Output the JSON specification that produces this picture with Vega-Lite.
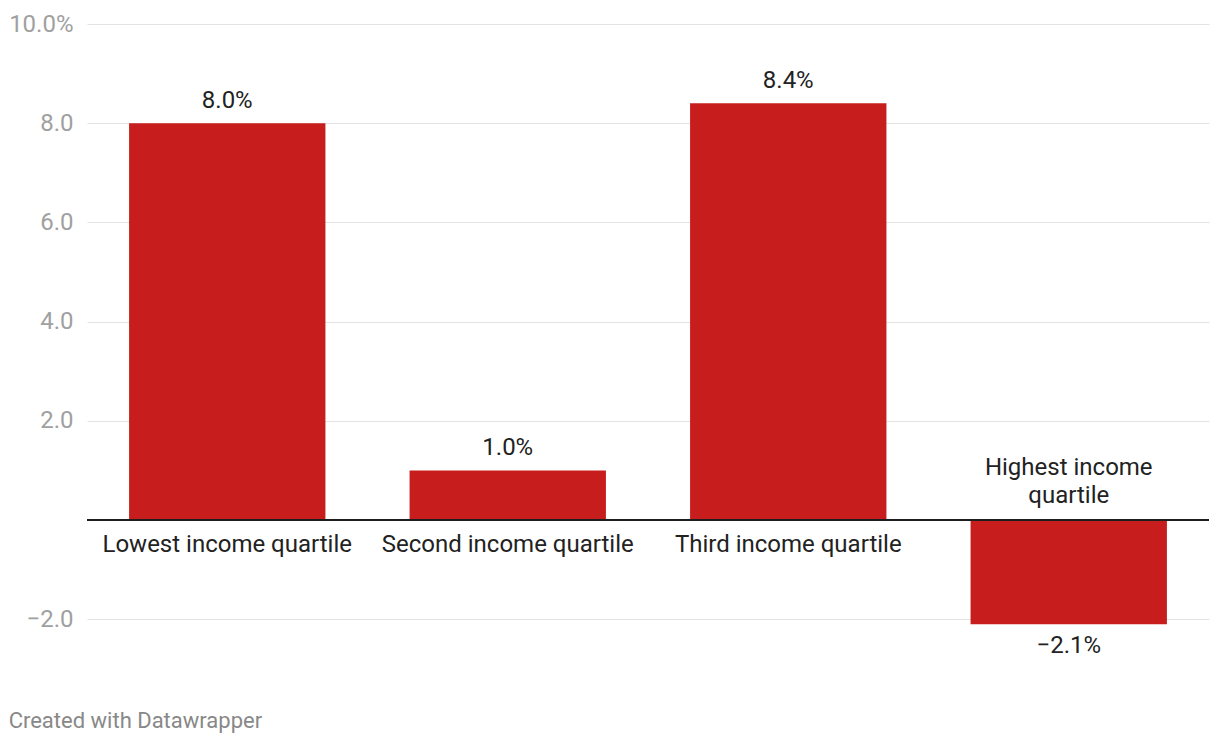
{
  "$schema": "https://vega.github.io/schema/vega-lite/v6.json",
  "width": 1122,
  "height": 620,
  "autosize": {"type": "none"},
  "padding": {"left": 87, "top": 24, "right": 11, "bottom": 100},
  "config": {"view": {"stroke": null}, "font": "Roboto"},
  "title": {"text": "Created with Datawrapper", "orient": "bottom", "anchor": "start", "frame": "bounds", "fontSize": 22, "font": "Roboto", "fontWeight": "normal", "color": "#888888", "offset": 53},
  "data": {"values": [
    {"group": "Lowest income quartile", "label": "Lowest income quartile", "value": 0.080},
    {"group": "Second income quartile", "label": "Second income quartile", "value": 0.010},
    {"group": "Third income quartile", "label": "Third income quartile", "value": 0.084},
    {"group": "Highest income quartile", "label": "Highest income\nquartile", "value": -0.021}
  ]},
  "layer": [
    {
      "mark": {"type": "bar", "color": "#c71e1d"},
      "encoding": {
        "x": {"field": "group", "type": "nominal", "sort": null, "scale": {"paddingInner": 0.3, "paddingOuter": 0.15}, "axis": null},
        "y": {"field": "value", "type": "quantitative", "scale": {"domain": [-0.025, 0.1], "nice": false},
          "axis": {"values": [-0.02, 0.02, 0.04, 0.06, 0.08, 0.1], "labelExpr": "datum.value > 0.099 ? format(datum.value, '.1%') : format(datum.value * 100, '.1f')", "grid": true, "gridColor": "#e3e3e3", "ticks": false, "domain": false, "labelFontSize": 24, "labelFont": "Roboto", "labelColor": "#a0a0a0", "labelPadding": 14, "title": null}}
      }
    },
    {
      "mark": {"type": "rule", "color": "#1d1d1d", "strokeWidth": 2},
      "encoding": {"y": {"datum": 0}}
    },
    {
      "transform": [{"filter": "datum.value >= 0"}],
      "mark": {"type": "text", "baseline": "alphabetic", "dy": -15, "fontSize": 24, "font": "Roboto", "color": "#222222"},
      "encoding": {
        "x": {"field": "group", "type": "nominal", "sort": null},
        "y": {"field": "value", "type": "quantitative"},
        "text": {"field": "value", "type": "quantitative", "format": ".1%"}
      }
    },
    {
      "transform": [{"filter": "datum.value < 0"}],
      "mark": {"type": "text", "baseline": "alphabetic", "dy": 29, "fontSize": 24, "font": "Roboto", "color": "#222222"},
      "encoding": {
        "x": {"field": "group", "type": "nominal", "sort": null},
        "y": {"field": "value", "type": "quantitative"},
        "text": {"field": "value", "type": "quantitative", "format": ".1%"}
      }
    },
    {
      "transform": [{"filter": "datum.value >= 0"}],
      "mark": {"type": "text", "baseline": "alphabetic", "dy": 32, "fontSize": 24, "font": "Roboto", "color": "#222222"},
      "encoding": {
        "x": {"field": "group", "type": "nominal", "sort": null},
        "y": {"datum": 0},
        "text": {"field": "label", "type": "nominal"}
      }
    },
    {
      "transform": [{"filter": "datum.value < 0"}],
      "mark": {"type": "text", "baseline": "alphabetic", "dy": -45, "fontSize": 24, "font": "Roboto", "color": "#222222", "lineBreak": "\n", "lineHeight": 28},
      "encoding": {
        "x": {"field": "group", "type": "nominal", "sort": null},
        "y": {"datum": 0},
        "text": {"field": "label", "type": "nominal"}
      }
    }
  ]
}
